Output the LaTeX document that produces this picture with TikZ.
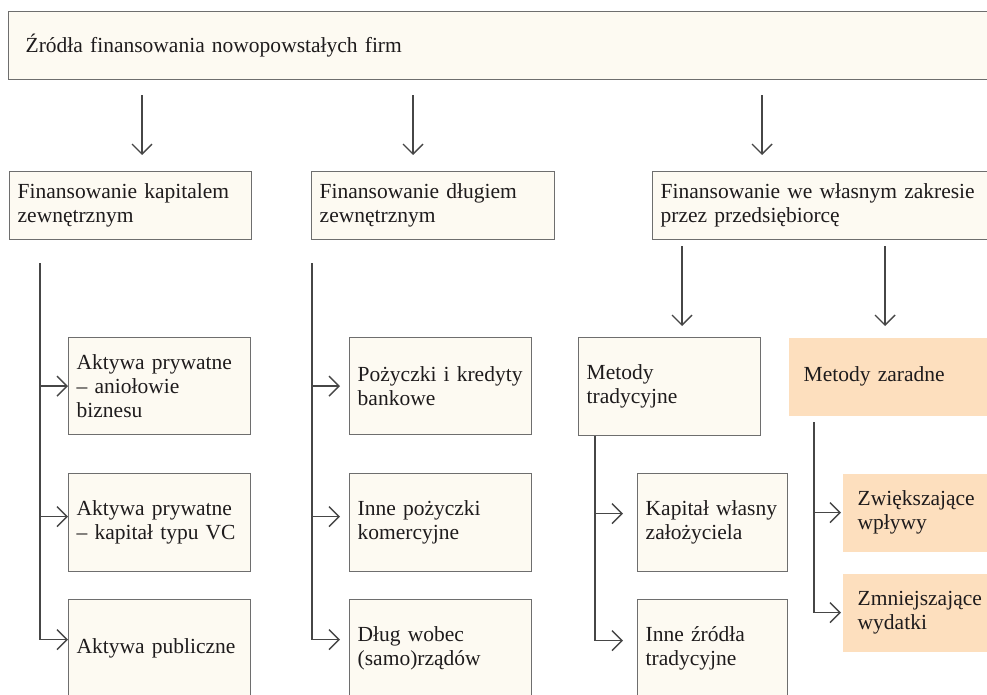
\documentclass[tikz,border=0pt]{standalone}
\usepackage{fontspec}
\setmainfont{Liberation Serif}
\usepackage{xcolor}
\definecolor{boxFill}{RGB}{253,250,242}
\definecolor{accentFill}{RGB}{253,223,190}
\definecolor{boxLine}{RGB}{110,110,110}
\definecolor{linkLine}{RGB}{70,70,70}
\definecolor{textCol}{RGB}{30,27,28}
\usepackage{tikz}
\usetikzlibrary{arrows.meta,positioning,calc}
\tikzstyle{cell}=[draw=boxLine, line width=1.4pt, fill=boxFill, anchor=north west, align=left,
  inner xsep=8pt, inner ysep=0pt, font=\fontsize{21.5}{24}\selectfont, text=textCol]
\tikzstyle{accent}=[cell, draw=none, fill=accentFill, inner xsep=15pt]
\tikzstyle{link}=[draw=linkLine, line width=1.5pt]
\tikzstyle{arr}=[link, -{Straight Barb[length=10pt,width=20pt,line width=1.4pt]}]

\begin{document}
\begin{tikzpicture}[x=1pt, y=-1pt]
  \clip (0,0) rectangle (987,695);
  \fill[white] (0,0) rectangle (987,695);

  % top level
  \node[cell, inner xsep=17pt, text width=958pt, minimum height=68pt] (src) at (8,11)
    {Źródła finansowania nowopowstałych firm};

  % second level
  \node[cell, text width=226pt, minimum height=68pt] (ext) at (9,171)
    {Finansowanie kapitalem\\zewnętrznym};
  \node[cell, text width=227pt, minimum height=68pt] (debt) at (311,171)
    {Finansowanie długiem\\zewnętrznym};
  \node[cell, text width=334pt, minimum height=68pt] (own) at (652,171)
    {Finansowanie we własnym zakresie\\przez przedsiębiorcę};

  % equity
  \node[cell, text width=166pt, minimum height=97pt] (angel) at (68,337)
    {Aktywa prywatne\\– aniołowie\\biznesu};
  \node[cell, text width=166pt, minimum height=98pt] (vc) at (68,473)
    {Aktywa prywatne\\– kapitał typu VC};
  \node[cell, text width=166pt, minimum height=98pt] (pub) at (68,599)
    {Aktywa publiczne};

  % debt
  \node[cell, text width=166pt, minimum height=97pt] (bank) at (349,337)
    {Pożyczki i kredyty\\bankowe};
  \node[cell, text width=166pt, minimum height=98pt] (loan) at (349,473)
    {Inne pożyczki\\komercyjne};
  \node[cell, text width=166pt, minimum height=98pt] (gov) at (349,599)
    {Dług wobec\\(samo)rządów};

  % own
  \node[cell, text width=166pt, minimum height=98pt] (trad) at (578,337)
    {Metody\\tradycyjne};
  \node[accent, text width=180pt, minimum height=78pt] (boot) at (788,337)
    {Metody zaradne};
  \node[cell, text width=134pt, minimum height=98pt] (founder) at (637,473)
    {Kapitał własny\\założyciela};
  \node[cell, text width=134pt, minimum height=98pt] (other) at (637,599)
    {Inne źródła\\tradycyjne};
  \node[accent, text width=130pt, minimum height=78pt] (inc) at (842,473)
    {Zwiększające\\wpływy};
  \node[accent, text width=130pt, minimum height=78pt] (dec) at (842,573)
    {Zmniejszające\\wydatki};

  % columns of the connectors
  \coordinate (x1) at (142,0);
  \coordinate (x2) at (413,0);
  \coordinate (x3) at (762,0);
  \coordinate (x4) at (682,0);
  \coordinate (x5) at (885,0);
  \coordinate (c1) at (40,0);
  \coordinate (c2) at (312,0);
  \coordinate (c3) at (595,0);
  \coordinate (c4) at (814,0);

  \draw[arr, shorten <=15pt, shorten >=16pt] (src.south -| x1) -- (ext.north -| x1);
  \draw[arr, shorten <=15pt, shorten >=16pt] (src.south -| x2) -- (debt.north -| x2);
  \draw[arr, shorten <=15pt, shorten >=16pt] (src.south -| x3) -- (own.north -| x3);

  \draw[arr, shorten <=6pt, shorten >=11pt] (own.south -| x4) -- (trad.north -| x4);
  \draw[arr, shorten <=6pt, shorten >=11pt] (own.south -| x5) -- (boot.north -| x5);

  \draw[arr] ([yshift=-23pt]ext.south -| c1) |- ([yshift=9pt]pub.west);
  \draw[arr] (angel.west -| c1) -- (angel.west);
  \draw[arr] ([yshift=6pt]vc.west -| c1) -- ([yshift=6pt]vc.west);

  \draw[arr, shorten >=9pt] ([yshift=-23pt]debt.south -| c2) |- ([yshift=9pt]gov.west);
  \draw[arr, shorten >=9pt] (bank.west -| c2) -- (bank.west);
  \draw[arr, shorten >=9pt] ([yshift=6pt]loan.west -| c2) -- ([yshift=6pt]loan.west);

  \draw[arr, shorten >=14pt] (trad.south -| c3) |- ([yshift=8pt]other.west);
  \draw[arr, shorten >=14pt] ([yshift=9pt]founder.west -| c3) -- ([yshift=9pt]founder.west);

  \draw[arr, shorten >=1pt] ([yshift=-6pt]boot.south -| c4) |- (dec.west);
  \draw[arr, shorten >=1pt] (inc.west -| c4) -- (inc.west);
\end{tikzpicture}
\end{document}
